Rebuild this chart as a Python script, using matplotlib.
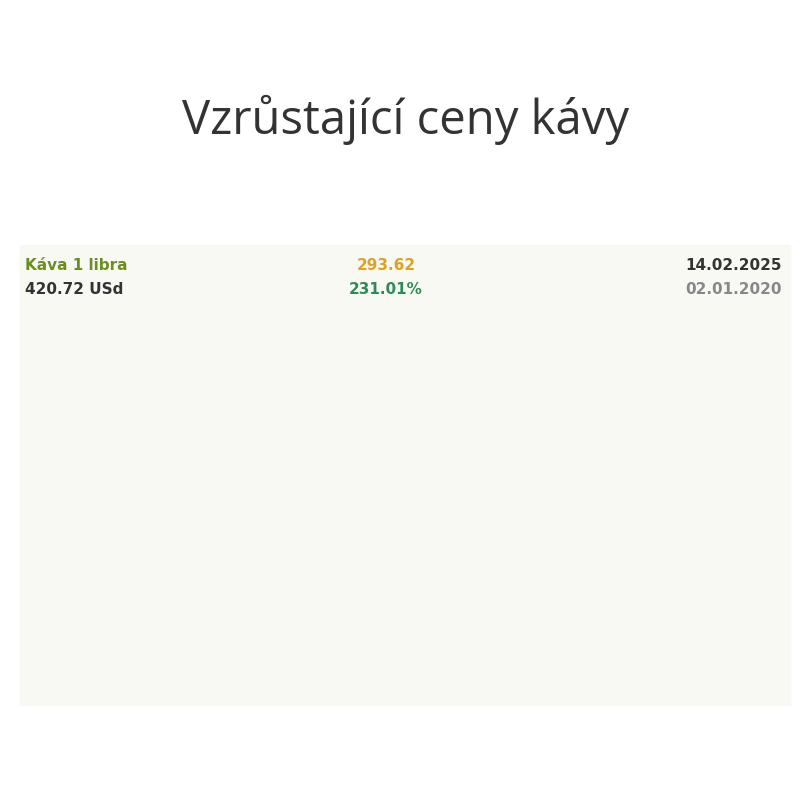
import numpy as np
import pandas as pd
import matplotlib.pyplot as plt
import matplotlib.dates as mdates
from matplotlib.patches import Rectangle

# monthly coffee price (USd per pound)
dates = list(pd.date_range("2020-01-01", "2025-01-01", freq="MS") + pd.Timedelta(days=1)) + \
        [pd.Timestamp("2025-02-01"), pd.Timestamp("2025-02-10"), pd.Timestamp("2025-02-14")]
prices = [125, 108, 115, 110, 100, 97, 100, 115, 125, 108, 112, 122,
          125, 125, 130, 138, 152, 155, 160, 190, 195, 205, 225, 240,
          240, 250, 215, 225, 215, 230, 210, 215, 225, 195, 165, 165,
          150, 178, 180, 192, 185, 165, 158, 150, 155, 165, 185, 190,
          185, 188, 190, 225, 205, 225, 230, 240, 255, 250, 320, 325,
          330, 390, 432, 421]
tick_dates = pd.to_datetime(["2020-07-01", "2021-01-01", "2021-07-01", "2022-01-01", "2022-07-01",
                             "2023-01-01", "2023-07-01", "2024-01-01", "2024-07-01", "2025-01-01"])
yticks = [100, 150, 200, 250, 300, 350, 400, 450]

W = 810
fig = plt.figure(figsize=(8.1, 8.1), dpi=100)
fig.patch.set_facecolor("white")
fig.text(0.5, 1 - 120 / W, "Vzrůstající ceny kávy", ha="center", va="center",
         fontsize=34, color="#333333", family="Open Sans")

# chart panel
fig.patches.append(Rectangle((20 / W, 1 - 705 / W), 770 / W, 460 / W,
                             transform=fig.transFigure, color="#f9f9f4", zorder=0))
fig.text(25 / W, 1 - 265 / W, "Káva 1 libra", color="#6b8e23", fontsize=11, weight="bold", va="center")
fig.text(25 / W, 1 - 289 / W, "420.72 USd", color="#333333", fontsize=11, weight="bold", va="center")
fig.text(386 / W, 1 - 265 / W, "293.62", color="#e0a020", fontsize=11, weight="bold", va="center", ha="center")
fig.text(386 / W, 1 - 289 / W, "231.01%", color="#2e8b57", fontsize=11, weight="bold", va="center", ha="center")
fig.text(782 / W, 1 - 265 / W, "14.02.2025", color="#333333", fontsize=11, weight="bold", va="center", ha="right")
fig.text(782 / W, 1 - 289 / W, "02.01.2020", color="#888888", fontsize=11, weight="bold", va="center", ha="right")

ax = fig.add_axes([25 / W, 1 - 614 / W, 685 / W, 306 / W])
ax.set_facecolor("none")
ax.plot(dates, prices, color="#6b8e23", lw=2)
ax.fill_between(dates, prices, 0, color="#eef0e0", alpha=0.5)
ax.set_xlim(pd.Timestamp("2019-12-28"), pd.Timestamp("2025-02-20"))
ax.set_ylim(61, 459)
ax.set_yticks(yticks)
ax.set_xticks(tick_dates)
ax.xaxis.set_major_formatter(mdates.DateFormatter("%d.%m.%y"))
ax.yaxis.tick_right()
ax.tick_params(axis="y", length=0, labelsize=11, colors="#333333", pad=8)
ax.tick_params(axis="x", length=4, labelsize=11, colors="#333333", labelrotation=-45)
for lab in ax.get_xticklabels():
    lab.set_ha("left")
    lab.set_rotation_mode("anchor")
ax.grid(True, color="#bbbbbb", ls=(0, (2, 3)), lw=0.8)
for s in ax.spines.values():
    s.set_visible(False)
ax.text(0.5, 0.5, "Káva 1 libra", transform=ax.transAxes, fontsize=26, weight="bold",
        color="#dddddd", alpha=0.8, ha="center", va="center", zorder=0)
ax.text(0.025, 0.16, "kurzy", transform=ax.transAxes, fontsize=14, color="#666666")
ax.text(0.11, 0.16, "cz", transform=ax.transAxes, fontsize=14, color="#f0c040", alpha=0.7)

fig.savefig("out.png", dpi=100)
